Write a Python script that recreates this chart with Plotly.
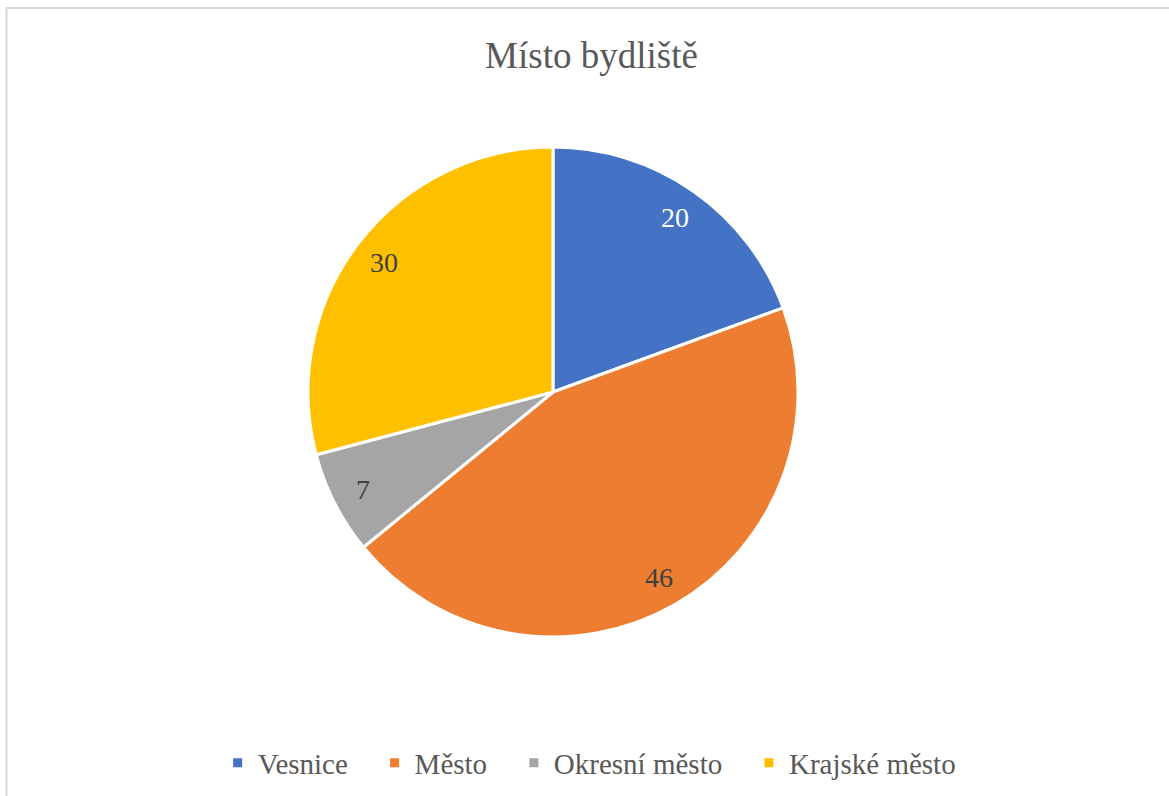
import math
import plotly.graph_objects as go

# --- data ---
categories = ["Vesnice", "Město", "Okresní město", "Krajské město"]
values = [20, 46, 7, 30]
colors = ["#4472C4", "#ED7D31", "#A5A5A5", "#FFC000"]
label_colors = ["white", "#404040", "#404040", "#404040"]

W, H = 1169, 796
FONT = "Liberation Serif"

# pie placement (pixels, from bottom-left)
cx_px, cy_px, r_px = 553, 404, 245

# legend entries get a little trailing room, like Excel's spacing
legend_names = [c + "\u00a0" * 3 if i < len(categories) - 1 else c
                for i, c in enumerate(categories)]

fig = go.Figure()

fig.add_trace(go.Pie(
    labels=legend_names,
    values=values,
    marker=dict(colors=colors, line=dict(color="white", width=3)),
    sort=False,
    direction="clockwise",
    rotation=0,
    textinfo="none",
    customdata=categories,
    hovertemplate="%{customdata}: %{value}<extra></extra>",
    domain=dict(
        x=[(cx_px - r_px) / W, (cx_px + r_px) / W],
        y=[(cy_px - r_px) / H, (cy_px + r_px) / H],
    ),
))

# value labels along each slice's bisector (like Excel "best fit")
annotations = []
total = sum(values)
cum = 0
for v, c in zip(values, label_colors):
    mid = (cum + v / 2) / total * 2 * math.pi
    cum += v
    rr = 0.87 * r_px
    annotations.append(dict(
        x=(cx_px + rr * math.sin(mid)) / W,
        y=(cy_px + rr * math.cos(mid)) / H,
        xref="paper", yref="paper",
        text=str(v),
        showarrow=False,
        font=dict(family=FONT, size=28, color=c),
        xanchor="center", yanchor="middle",
    ))

fig.update_layout(
    width=W,
    height=H,
    margin=dict(l=0, r=0, t=0, b=0),
    paper_bgcolor="white",
    plot_bgcolor="white",
    title=dict(
        text="Místo bydliště",
        font=dict(family=FONT, size=37, color="#595959"),
        x=0.506, xanchor="center",
        y=(H - 55) / H, yanchor="middle",
    ),
    legend=dict(
        orientation="h",
        x=0.504, xanchor="center",
        y=(H - 763) / H, yanchor="middle",
        font=dict(family=FONT, size=29, color="#595959"),
        itemwidth=30,
        traceorder="normal",
    ),
    annotations=annotations,
    shapes=[dict(
        type="rect", xref="paper", yref="paper",
        x0=6.5 / W, x1=1.02, y0=-0.02, y1=(H - 8) / H,
        line=dict(color="#D9D9D9", width=2),
        fillcolor="rgba(0,0,0,0)",
        layer="below",
    )],
)

fig.write_html(
    "out.html",
    config={"displayModeBar": False},
    post_script="document.body.style.margin='0';document.body.style.overflow='hidden';",
)
